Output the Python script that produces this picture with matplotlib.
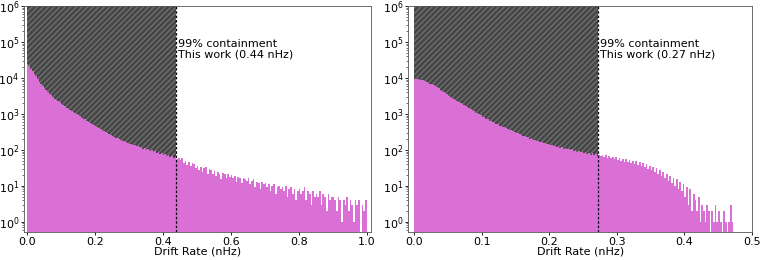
import numpy as np
import matplotlib.pyplot as plt
from matplotlib.transforms import blended_transform_factory

# Left panel: drift-rate histogram counts, bins of 0.005 nHz over 0..1
left_width = 0.005
left_counts = [
    25000, 21000, 18000, 15200, 13000, 11000, 9100, 7800, 6800, 5900,
    5200, 4600, 4100, 3600, 3250, 2900, 2650, 2450, 2250, 2100,
    1900, 1780, 1620, 1490, 1380, 1260, 1200, 1120, 1050, 980,
    910, 860, 790, 740, 700, 645, 600, 565, 520, 490,
    460, 420, 400, 375, 345, 330, 305, 292, 272, 260,
    242, 232, 218, 210, 196, 192, 180, 176, 162, 160,
    148, 146, 138, 137, 126, 128, 118, 119, 108, 112,
    102, 104, 95, 97, 90, 92, 84, 88, 79, 80,
    74, 75, 68, 72, 63, 67, 59, 63, 56, 60,
    52, 58, 44, 50, 39, 47, 35, 44, 40, 31,
    36, 28, 34, 25, 31, 33, 22, 29, 27, 21,
    26, 19, 24, 22, 15, 23, 21, 17, 22, 18,
    20, 16, 19, 13, 18, 17, 12, 16, 15, 14,
    16, 11, 14, 15, 9, 13, 12, 8, 13, 11,
    12, 9, 11, 7, 10, 11, 6, 9, 10, 8,
    9, 7, 10, 5, 8, 9, 6, 8, 4, 7,
    8, 6, 7, 9, 4, 7, 6, 3, 7, 5,
    6, 5, 7, 3, 6, 5, 2, 6, 4, 5,
    5, 4, 2, 5, 4, 1, 4, 3, 5, 2,
    4, 3, 1, 4, 3, 4, 0, 3, 2, 4,
]
left_cont = 0.44

# Right panel: bins of 0.0025 nHz over 0..0.5
right_width = 0.0025
right_counts = [
    9330, 9280, 9150, 8900, 8720, 8580, 8300, 7820, 7380, 6920,
    6580, 6230, 5880, 5520, 5090, 4760, 4390, 4120, 3790, 3480,
    3230, 3030, 2750, 2580, 2390, 2250, 2120, 2010, 1850, 1750,
    1610, 1560, 1440, 1360, 1250, 1190, 1090, 1030, 970, 920,
    845, 795, 735, 715, 655, 635, 595, 565, 535, 515,
    475, 465, 430, 420, 395, 385, 360, 350, 325, 320,
    298, 292, 270, 267, 246, 244, 225, 222, 205, 207,
    190, 189, 178, 176, 165, 167, 154, 156, 144, 146,
    134, 140, 125, 130, 119, 124, 113, 118, 108, 114,
    103, 108, 98, 104, 94, 99, 89, 95, 85, 90,
    81, 87, 77, 84, 74, 81, 71, 78, 68, 74,
    66, 74, 63, 70, 60, 68, 58, 65, 55, 62,
    52, 60, 50, 57, 46, 55, 45, 52, 42, 50,
    40, 48, 38, 46, 36, 43, 33, 40, 30, 36,
    28, 34, 25, 31, 22, 27, 19, 24, 17, 21,
    14, 19, 12, 17, 10, 15, 8, 13, 7, 11,
    5, 9, 3, 8, 2, 6, 4, 2, 5, 1,
    3, 2, 1, 3, 2, 0, 2, 1, 3, 1,
    2, 1, 0, 2, 1, 0, 1, 3, 1, 0,
    0, 0, 0, 0, 0, 0, 0, 0, 0, 0,
]
right_cont = 0.2725

labels = ["99% containment\nThis work (0.44 nHz)",
          "99% containment\nThis work (0.27 nHz)"]

fig = plt.figure(figsize=(7.6, 2.6), dpi=100)
ax1 = fig.add_axes([0.0316, 0.1077, 0.4562, 0.8692])
ax2 = fig.add_axes([0.5372, 0.1077, 0.4522, 0.8692])

panels = [
    (ax1, left_counts, left_width, left_cont, labels[0], (-0.008, 1.012)),
    (ax2, right_counts, right_width, right_cont, labels[1], (-0.0089, 0.5)),
]

for ax, counts, width, cont, label, xlim in panels:
    counts = np.array(counts, dtype=float)
    edges = np.arange(len(counts) + 1) * width
    centers = edges[:-1] + width / 2
    ax.hist(centers, bins=edges, weights=counts, histtype="stepfilled",
            color="orchid", linewidth=0, log=True)

    # hatched region above the histogram, up to the containment value
    n = int(round(cont / width))
    xs = edges[:n + 1]
    ys = np.append(counts[:n], counts[n - 1])
    ax.fill_between(xs, ys, 1e6, step="post", facecolor="#454545",
                    edgecolor="#707070", hatch="//////", linewidth=0)
    ax.axvline(cont, color="k", linestyle=(0, (2, 1.5)), linewidth=0.9)

    tr = blended_transform_factory(ax.transData, ax.transAxes)
    ax.annotate(label, xy=(cont, 0.81), xycoords=tr, xytext=(1.5, 0),
                textcoords="offset points", va="center", ha="left",
                fontsize=8, linespacing=1.05)

    ax.set_yscale("log")
    ax.set_ylim(0.52, 1e6)
    ax.set_xlim(*xlim)
    ax.set_xlabel("Drift Rate (nHz)", fontsize=8, labelpad=0)
    ax.tick_params(which="major", length=2, pad=1.5, labelsize=8, width=0.6)
    ax.tick_params(which="minor", length=1.2, width=0.4)
    for s in ax.spines.values():
        s.set_linewidth(0.6)
        s.set_color("#555555")

ax1.set_xticks([0.0, 0.2, 0.4, 0.6, 0.8, 1.0])
ax2.set_xticks([0.0, 0.1, 0.2, 0.3, 0.4, 0.5])

fig.savefig("out.png", dpi=100)
